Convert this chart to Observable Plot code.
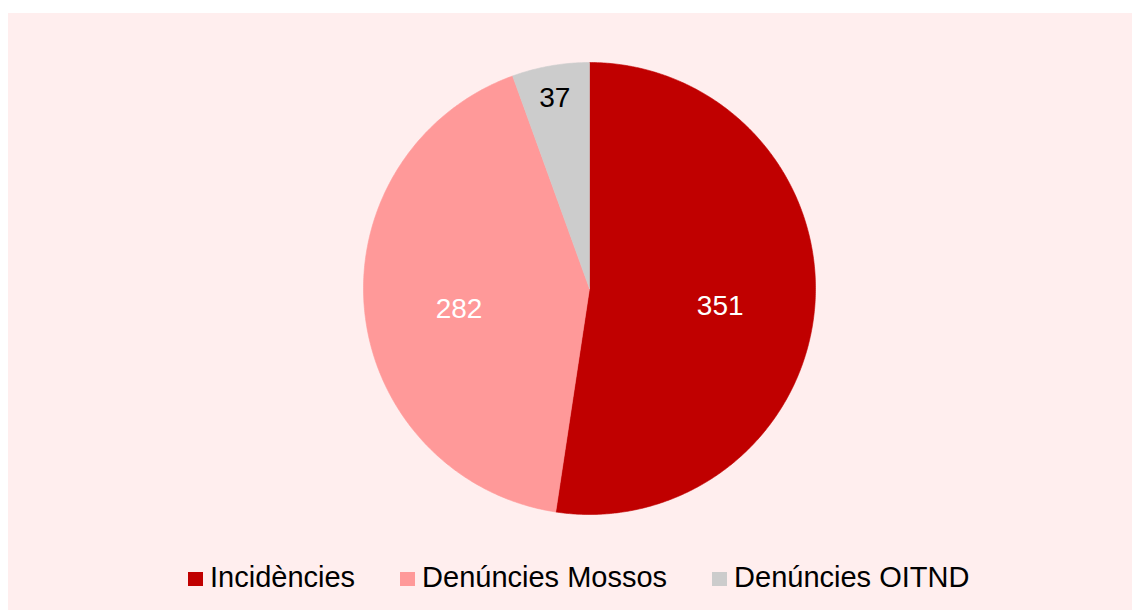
<!DOCTYPE html>
<html>
<head>
<meta charset="utf-8">
<script src="https://cdn.jsdelivr.net/npm/d3@7"></script>
<script src="https://cdn.jsdelivr.net/npm/@observablehq/plot@0.6"></script>
<style>
  html, body { margin: 0; padding: 0; background: #ffffff; }
  body { width: 1132px; height: 610px; position: relative; overflow: hidden; font-family: "Liberation Sans", Arial, sans-serif; }
  #panel { position: absolute; left: 8px; top: 13px; width: 1124px; height: 597px; background: #FFEEEE; }
  #chart { position: absolute; left: 0; top: 0; }
  #legend { position: absolute; left: 188px; top: 561px; display: flex; align-items: center; font-size: 29px; line-height: 33px; color: #000; white-space: nowrap; }
  .item { display: flex; align-items: center; margin-right: 45px; }
  .item:last-child { margin-right: 0; }
  .sw { width: 15px; height: 14px; margin-right: 7px; margin-top: 2px; }
</style>
</head>
<body>
<div id="panel"></div>
<div id="chart"></div>
<div id="legend"></div>
<script>
const categories = ["Incidències", "Denúncies Mossos", "Denúncies OITND"];
const values = [351, 282, 37];
const colors = ["#C00000", "#FF9999", "#CCCCCC"];
const labelColors = ["#ffffff", "#ffffff", "#000000"];

const total = d3.sum(values);
const pie = d3.pie().sort(null).value(d => d.value);
const arcs = pie(categories.map((c, i) => ({key: c, value: values[i], i})));

// polygon outlines of each slice in unit-circle coordinates (angle 0 = 12 o'clock, clockwise)
const slices = arcs.map(a => {
  const pts = [{x: 0, y: 0}];
  const n = Math.max(2, Math.ceil((a.endAngle - a.startAngle) / (Math.PI / 360)));
  for (let k = 0; k <= n; k++) {
    const t = a.startAngle + (a.endAngle - a.startAngle) * k / n;
    pts.push({x: Math.sin(t), y: Math.cos(t)});
  }
  pts.push({x: 0, y: 0});
  return {i: a.data.i, pts};
});

const labels = arcs.map(a => {
  const mid = (a.startAngle + a.endAngle) / 2;
  const r = a.data.value / total < 0.1 ? 0.89 : 0.58;
  return {x: r * Math.sin(mid), y: r * Math.cos(mid), text: String(a.data.value), i: a.data.i};
});

const plot = Plot.plot({
  width: 1132,
  height: 540,
  marginLeft: 363,
  marginRight: 317,
  marginTop: 62,
  marginBottom: 26,
  x: {domain: [-1, 1], axis: null},
  y: {domain: [-1, 1], axis: null},
  style: {background: "transparent", fontFamily: "Liberation Sans, Arial, sans-serif"},
  marks: [
    ...slices.map(s => Plot.line(s.pts, {x: "x", y: "y", fill: colors[s.i], stroke: colors[s.i], strokeWidth: 0.6, curve: "linear"})),
    Plot.text(labels, {x: "x", y: "y", text: "text", fill: d => labelColors[d.i], fontSize: 28, dy: 8})
  ]
});
document.getElementById("chart").appendChild(plot);

const legend = d3.select("#legend");
categories.forEach((c, i) => {
  const it = legend.append("div").attr("class", "item");
  it.append("div").attr("class", "sw").style("background", colors[i]);
  it.append("span").text(c);
});
</script>
</body>
</html>
